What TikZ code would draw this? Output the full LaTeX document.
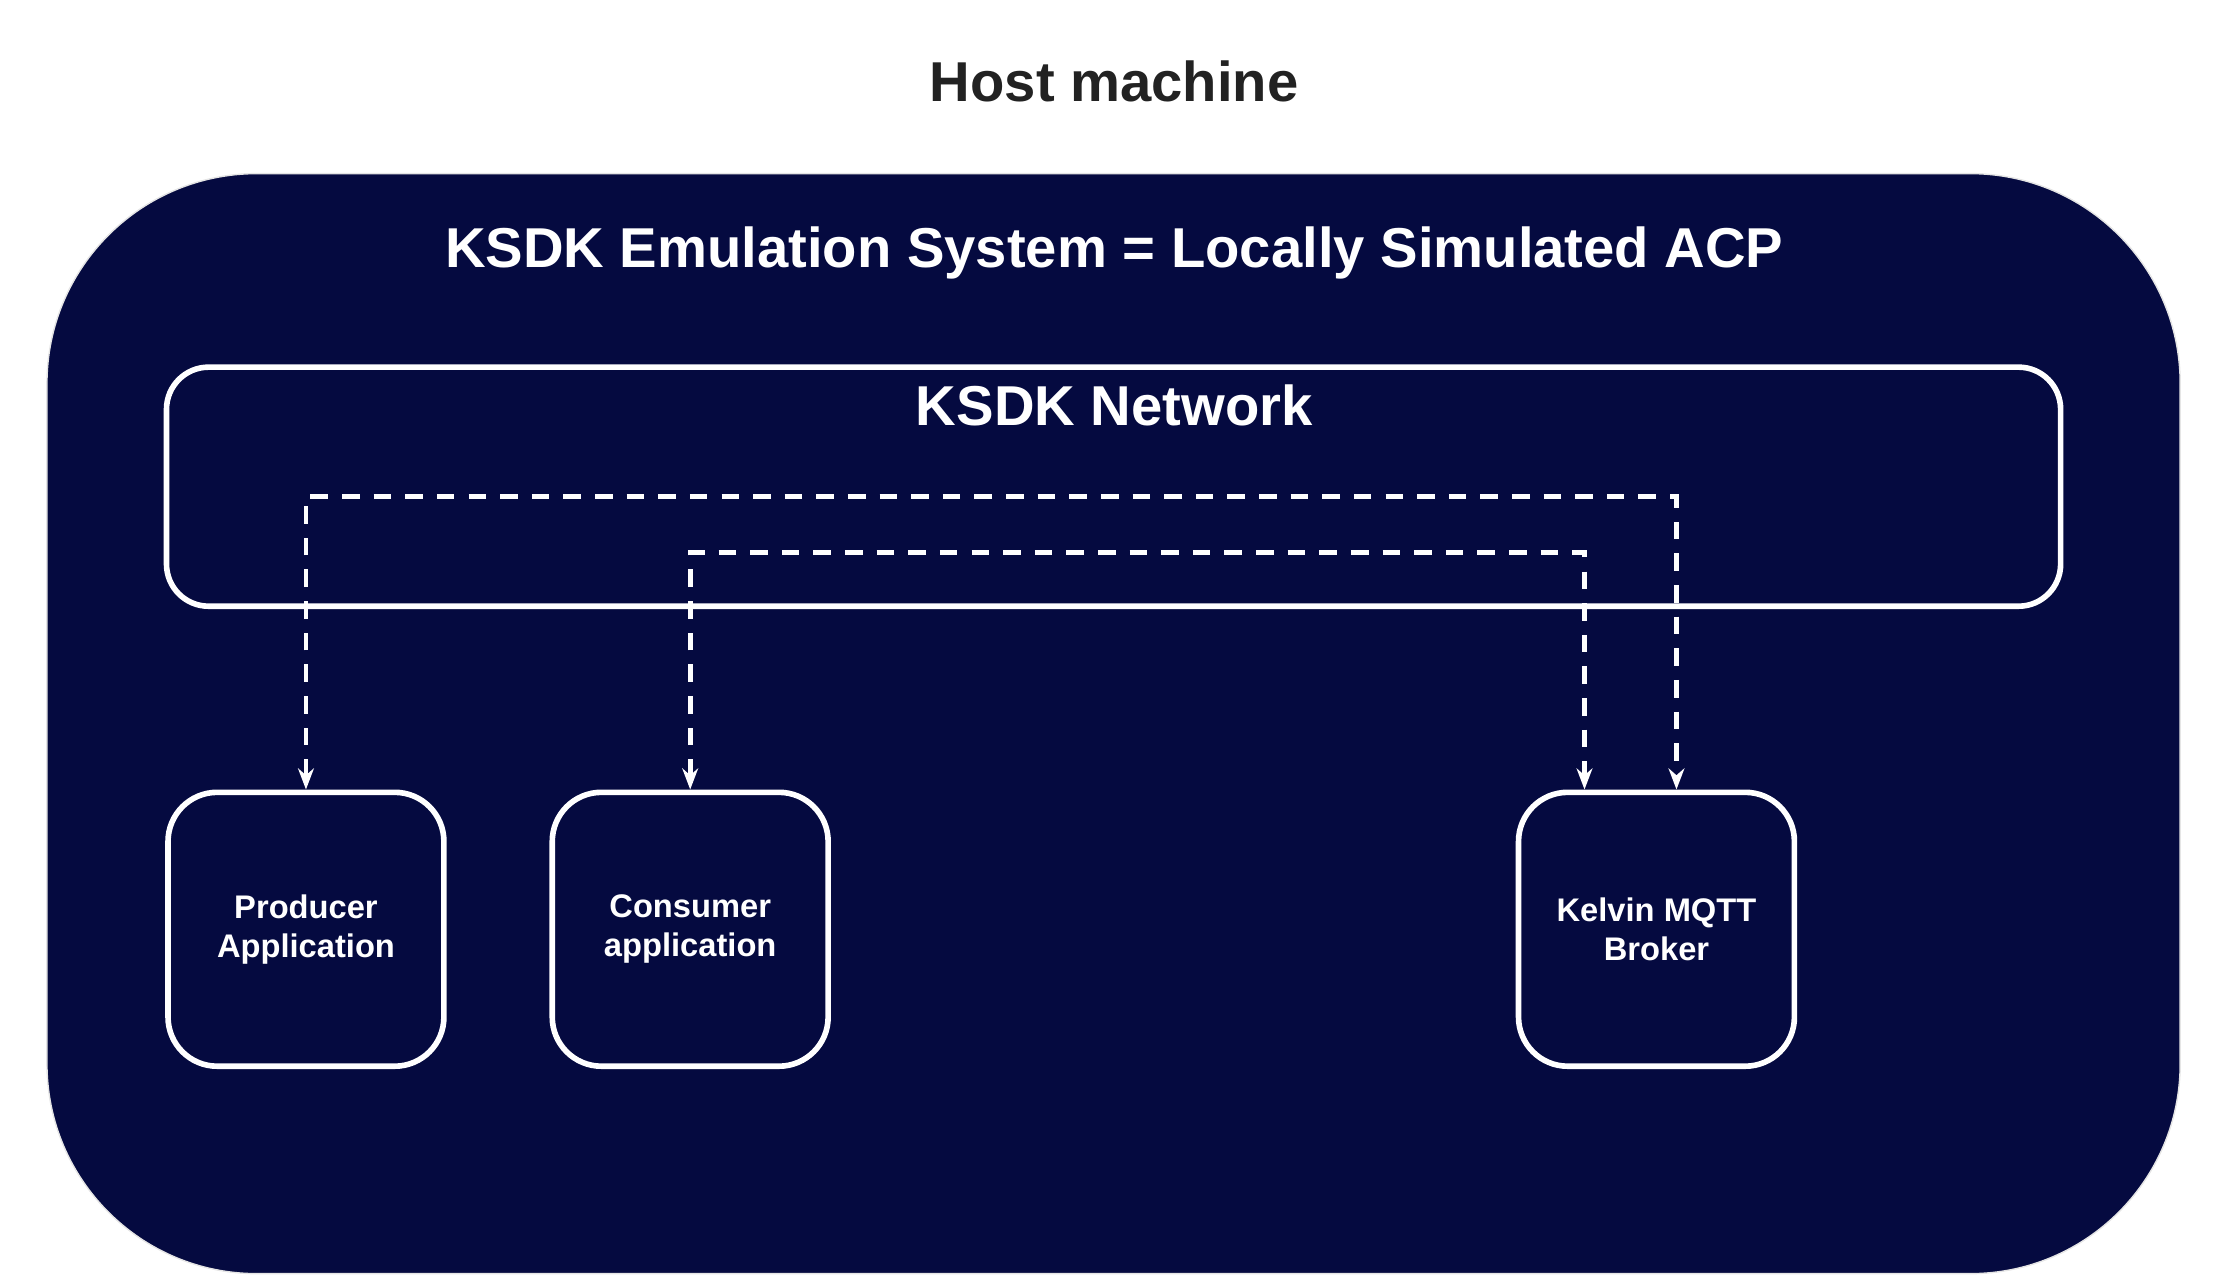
\documentclass[tikz,border=0pt]{standalone}
\usepackage{fontspec}
\setmainfont{Liberation Sans}
\usetikzlibrary{arrows.meta}
\definecolor{navy}{HTML}{050A40}
\definecolor{titlegray}{HTML}{222222}
\tikzset{
	appbox/.style={draw=white, line width=1.6pt, rounded corners=14pt, minimum width=2.76cm, minimum height=2.74cm, text=white, font=\bfseries\fontsize{9.3}{11}\selectfont, align=center},
	link/.style={draw=white, line width=1.4pt, dash pattern=on 5pt off 4pt, {Stealth[length=6pt]}-{Stealth[length=6pt]}}
}
\begin{document}
\begin{tikzpicture}[x=0.01423cm, y=-0.01423cm]
		\useasboundingbox (0,0) rectangle (1560,898);
		% Host
		\node[font=\bfseries\fontsize{16}{19}\selectfont, text=titlegray] (host) at (783,57) {Host machine};
		\draw[draw=gray!20, fill=navy, rounded corners=2.1cm] (33,122) rectangle (1532,895);
		\node[font=\bfseries\fontsize{16}{19}\selectfont, text=white] (emu) at (783,178) {KSDK Emulation System = Locally Simulated ACP};

		% Network
		\draw[white, line width=1.6pt, rounded corners=12pt] (117,258) rectangle (1448,426);
		\node[font=\bfseries\fontsize{16}{19}\selectfont, text=white] (net) at (783,285) {KSDK Network};

		% Applications
		\node[appbox] (prod) at (215,653) {Producer\\Application};
		\node[appbox] (cons) at (485,653) {Consumer\\application};
		\node[appbox] (broker) at (1164,653) {Kelvin MQTT\\Broker};

		% Links
		\coordinate (top1) at (215,349);
		\coordinate (top2) at (485,388);
		\draw[link] (prod.north) -- (top1) -| ([xshift=0.2cm]broker.north);
		\draw[link] (cons.north) -- (top2) -| ([xshift=-0.72cm]broker.north);
	\end{tikzpicture}
\end{document}
